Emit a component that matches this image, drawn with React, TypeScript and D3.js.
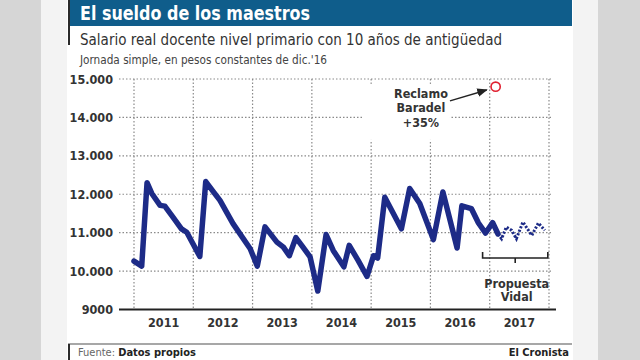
import React from 'react';
import * as d3 from 'd3';

const title = 'El sueldo de los maestros';
const subtitle = 'Salario real docente nivel primario con 10 años de antigüedad';
const subsubtitle = "Jornada simple, en pesos constantes de dic.'16";

const yearLabels = ['2011', '2012', '2013', '2014', '2015', '2016', '2017'];
const yearBounds = [2011, 2012, 2013, 2014, 2015, 2016, 2017, 2018];
const yTicks = [9000, 10000, 11000, 12000, 13000, 14000, 15000];
const yTickLabels = ['9000', '10.000', '11.000', '12.000', '13.000', '14.000', '15.000'];

// real salary series (decimal year, pesos)
const realDates = [
  2011.0, 2011.13, 2011.22, 2011.3, 2011.44, 2011.52, 2011.66, 2011.8, 2011.89,
  2012.11, 2012.21, 2012.34, 2012.45, 2012.67, 2012.96,
  2013.08, 2013.21, 2013.41, 2013.52, 2013.62, 2013.73, 2013.85, 2013.97,
  2014.1, 2014.24, 2014.36, 2014.54, 2014.63, 2014.78, 2014.93,
  2015.04, 2015.11, 2015.23, 2015.51, 2015.65, 2015.82,
  2016.05, 2016.21, 2016.45, 2016.53, 2016.69, 2016.81, 2016.93,
  2017.05, 2017.14,
];
const realValues = [
  10260, 10130, 12300, 12020, 11710, 11690, 11400, 11100, 11010,
  10380, 12330, 12060, 11840, 11235, 10580,
  10130, 11150, 10755, 10624, 10400, 10870, 10624, 10370,
  9480, 10950, 10538, 10110, 10670, 10277, 9860,
  10400, 10340, 11920, 11100, 12150, 11757,
  10820, 12060, 10600, 11700, 11627, 11251, 10990,
  11260, 10966,
];

// proposal (dotted)
const proposalDates = [2017.14, 2017.2, 2017.28, 2017.37, 2017.45, 2017.56, 2017.71, 2017.82, 2017.93];
const proposalValues = [10966, 10843, 11146, 11060, 10843, 11277, 10930, 11250, 11060];

// claim point
const claimDate = 2017.1;
const claimValue = 14800;
const claimLabel = ['Reclamo', 'Baradel', '+35%'];
const proposalLabel = ['Propuesta', 'Vidal'];
const bracketRange = [2016.88, 2017.98];
const bracketValue = 10340;

const FONT = "'Liberation Sans Narrow','DejaVu Sans Condensed','Arial Narrow',sans-serif";

export default function App() {
  const x = d3.scaleLinear().domain([2011, 2018]).range([134, 549]);
  const y = d3.scaleLinear().domain([9000, 15000]).range([309.5, 79]);
  const plotLeft = 119;
  const plotRight = 553;

  const realData = realDates.map((d, i) => [d, realValues[i]] as [number, number]);
  const propData = proposalDates.map((d, i) => [d, proposalValues[i]] as [number, number]);
  const line = d3
    .line<[number, number]>()
    .x((d) => x(d[0]))
    .y((d) => y(d[1]));

  const cx = x(claimDate);
  const cy = y(claimValue);
  const annX = x(2015.84);
  const annY0 = y(14508);

  const bx0 = x(bracketRange[0]);
  const bx1 = x(bracketRange[1]);
  const by = y(bracketValue);
  const bmid = (bx0 + bx1) / 2;

  return (
    <svg width={640} height={360} style={{ position: 'absolute', left: 0, top: 0 }} fontFamily={FONT}>
      <style>{'body{margin:0}'}</style>
      <defs>
        <marker id="arr" viewBox="0 0 10 10" refX="9" refY="5" markerWidth="7" markerHeight="7" orient="auto">
          <path d="M0,1 L10,5 L0,9 z" fill="#222" />
        </marker>
      </defs>
      <rect x={0} y={0} width={640} height={360} fill="#d6d6d6" />
      <rect x={41} y={0} width={557} height={360} fill="#f3f3f3" />
      <rect x={67} y={0} width={506} height={360} fill="#ffffff" />

      {/* title bar */}
      <rect x={68} y={0} width={504} height={26} fill="#0f5d8b" />
      <line x1={69} x2={69} y1={0} y2={45} stroke="#2a2a2a" strokeWidth={2} />
      <text x={80} y={20} fill="#fff" fontSize={20} fontWeight="bold" textLength={230} lengthAdjust="spacingAndGlyphs">
        {title}
      </text>
      <text x={80} y={45} fill="#333" fontSize={16.5} textLength={422} lengthAdjust="spacingAndGlyphs">
        {subtitle}
      </text>
      <text x={80} y={64} fill="#444" fontSize={12.5} textLength={247} lengthAdjust="spacingAndGlyphs">
        {subsubtitle}
      </text>

      {/* grid */}
      {yTicks.slice(1).map((v) => (
        <line key={'h' + v} x1={plotLeft} x2={plotRight} y1={y(v)} y2={y(v)} stroke="#8a8a8a" strokeWidth={1.2} strokeDasharray="1.5,2" />
      ))}
      {yearBounds.map((yr) => (
        <line key={'v' + yr} x1={x(yr)} x2={x(yr)} y1={y(15000)} y2={y(9000)} stroke="#8a8a8a" strokeWidth={1.2} strokeDasharray="1.5,2" />
      ))}

      {/* y labels */}
      {yTicks.map((v, i) => (
        <text key={'yl' + v} x={113} y={y(v) + 4.5} textAnchor="end" fontSize={12.5} fontWeight="bold" fill="#333">
          {yTickLabels[i]}
        </text>
      ))}
      {/* x axis */}
      <line x1={plotLeft} x2={plotRight + 3} y1={y(9000)} y2={y(9000)} stroke="#222" strokeWidth={2} />
      {yearLabels.map((lab, i) => (
        <text key={'xl' + lab} x={(x(yearBounds[i]) + x(yearBounds[i + 1])) / 2} y={327} textAnchor="middle" fontSize={12.5} fontWeight="bold" fill="#333">
          {lab}
        </text>
      ))}

      {/* annotation backdrop */}
      <rect x={annX - 57} y={annY0 - 14} width={86} height={56} fill="#fff" />
      {claimLabel.map((t, i) => (
        <text key={t} x={annX} y={annY0 + i * 14.5} textAnchor="middle" fontSize={12.5} fontWeight="bold" fill="#333">
          {t}
        </text>
      ))}
      <line x1={x(2016.33)} y1={y(14430)} x2={x(2016.95)} y2={y(14716)} stroke="#222" strokeWidth={1.5} markerEnd="url(#arr)" />
      <circle cx={cx} cy={cy} r={4.6} fill="#fff" stroke="#e02030" strokeWidth={1.6} />

      {/* series */}
      <path d={line(realData) || ''} fill="none" stroke="#1d2b87" strokeWidth={5.5} strokeLinejoin="round" strokeLinecap="round" />
      <path d={line(propData) || ''} fill="none" stroke="#1d2b87" strokeWidth={3} strokeDasharray="2.2,1.6" />

      {/* bracket */}
      <path d={`M${bx0},${by - 6} L${bx0},${by} L${bx1},${by} L${bx1},${by - 6}`} fill="none" stroke="#222" strokeWidth={1.6} />
      <line x1={bmid} x2={bmid} y1={by} y2={by + 5} stroke="#222" strokeWidth={1.6} />
      {proposalLabel.map((t, i) => (
        <text key={t} x={bmid + 1.5} y={287.5 + i * 13.5} textAnchor="middle" fontSize={12.5} fontWeight="bold" fill="#333">
          {t}
        </text>
      ))}

      {/* footer */}
      <line x1={68} x2={572} y1={344} y2={344} stroke="#8a8a8a" strokeWidth={1.5} />
      <line x1={69} x2={69} y1={344} y2={360} stroke="#2a2a2a" strokeWidth={2} />
      <text x={78} y={356} fontSize={11} fill="#666">
        Fuente: <tspan fontWeight="bold" fill="#222">Datos propios</tspan>
      </text>
      <text x={569} y={356} fontSize={11} fontWeight="bold" fill="#222" textAnchor="end">
        El Cronista
      </text>
    </svg>
  );
}
